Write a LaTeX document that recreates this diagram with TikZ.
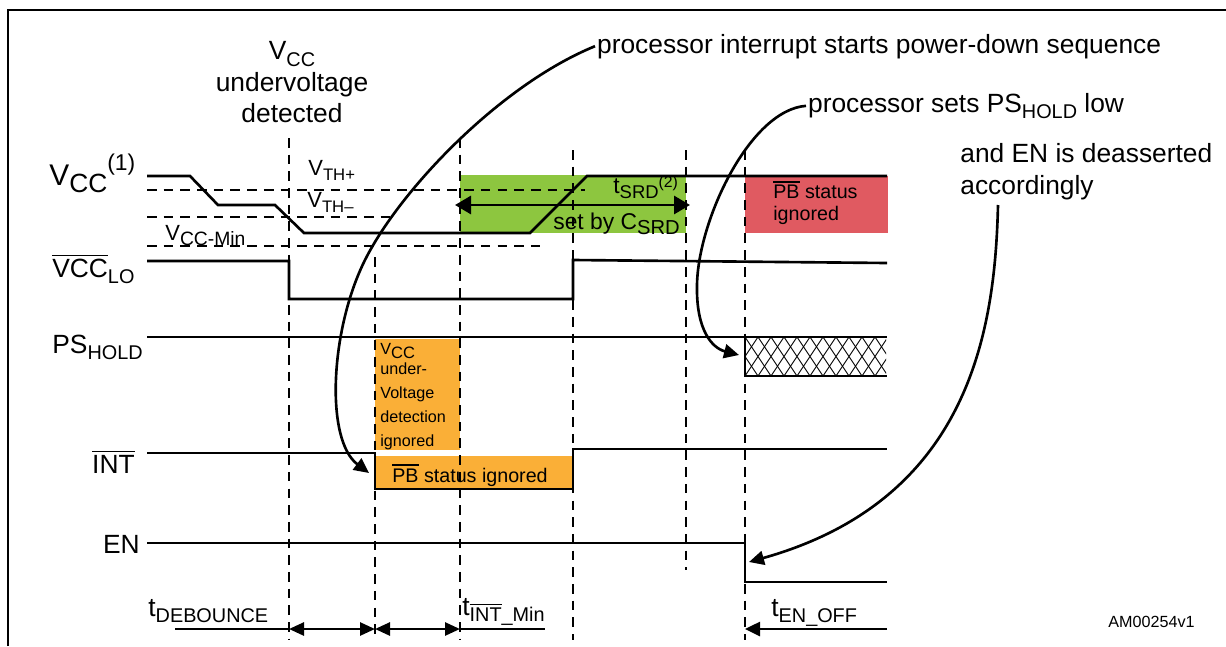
\documentclass[tikz,border=0pt]{standalone}
\usepackage{fontspec}
\setmainfont{Liberation Sans}
\usepackage{tikz}
\usetikzlibrary{arrows.meta}
\definecolor{srdgreen}{RGB}{141,198,63}
\definecolor{pbred}{RGB}{224,90,97}
\definecolor{ignorange}{RGB}{250,175,55}
\newcommand{\sublbl}[2][11.3]{\raisebox{-0.25em}{\fontsize{#1}{#1}\selectfont #2}}
\newcommand{\suplbl}[2][11]{\raisebox{0.5em}{\fontsize{#1}{#1}\selectfont #2}}
\newcommand{\barred}[1]{\leavevmode\vbox{\hrule height 0.9pt\kern 1.4pt\hbox{#1}}}

\begin{document}
\begin{tikzpicture}[x=0.02cm,y=-0.02cm,
    wave/.style={line width=1.5pt},
    guide/.style={line width=1.2pt,dash pattern=on 5.5pt off 4pt},
    big/.style={font=\fontsize{15}{18}\selectfont,inner sep=1pt},
    note/.style={font=\fontsize{11.2}{12.5}\selectfont,inner sep=0pt},
    tiny/.style={font=\fontsize{9.2}{13.6}\selectfont,inner sep=0pt},
    tip/.style={-{Triangle[length=0.3cm,width=0.28cm]}},
    both/.style={{Triangle[length=0.3cm,width=0.26cm]}-{Triangle[length=0.3cm,width=0.26cm]}}]
			%%%%% START %%%%%
			\useasboundingbox (0,0) rectangle (1226,646);
			\draw[line width=1.6pt] (8,646) -- (8,10) -- (1226,10);
			
			\fill[srdgreen] (460,175) rectangle (686,233);
			\fill[pbred] (745,176) rectangle (888,233);
			\fill[ignorange] (375,339) rectangle (460,450);
			\fill[ignorange] (375,456) rectangle (573,490);
			
			\begin{scope}
				\clip (745,337) rectangle (886,376);
				\foreach \x in {719,732,...,886}
					\draw[line width=0.5pt] (\x,337) -- ++(26,39) (\x,376) -- ++(26,-39);
			\end{scope}
			
			\foreach \x/\y in {289/138,375/257,460/138,573/150,745/150}
				\draw[guide] (\x,\y) -- (\x,640);
			\draw[guide] (686,150) -- (686,570);
			\draw[guide] (147,190) -- (585,190);
			\draw[guide] (147,217) -- (390,217);
			\draw[guide] (147,246) -- (540,246);
			
			\draw[wave] (147,176) -- (190,176) -- (218,205) -- (275,205) -- (304,233) -- (530,233) -- (587,176) -- (887,176);
			\draw[wave] (147,261) -- (289,261) -- (289,299) -- (573,299) -- (573,260) -- (887,263);
			\draw[wave] (147,337) -- (887,337) (745,337) -- (745,376) -- (887,376);
			\draw[wave] (147,453) -- (375,453) -- (375,489) -- (573,489) -- (573,449) -- (887,449);
			\draw[wave] (147,543) -- (745,543) -- (745,582) -- (887,582);
			
			\coordinate (srdL) at (455,205);
			\coordinate (srdR) at (690,205);
			\draw[line width=1.7pt,{Triangle[length=0.32cm,width=0.36cm]}-{Triangle[length=0.32cm,width=0.36cm]}] (srdL) -- (srdR);
			
			\coordinate (d0) at (175,629);
			\coordinate (d1) at (289,629);
			\coordinate (d2) at (375,629);
			\coordinate (d3) at (460,629);
			\coordinate (d4) at (545,629);
			\coordinate (e0) at (887,629);
			\coordinate (e1) at (745,629);
			\draw[wave] (d0) -- (d1);
			\draw[wave,both] (d1) -- (d2);
			\draw[wave,both] (d2) -- (d3);
			\draw[wave] (d3) -- (d4);
			\draw[wave,tip] (e0) -- (e1);
			
			\node[big,align=center,anchor=north,inner sep=0pt] (uvd) at (292,41) {V\sublbl{CC}\\undervoltage\\detected};
			\node[big,anchor=base west] (irq) at (595,53) {processor interrupt starts power-down sequence};
			\node[big,anchor=base west] (hold) at (806,112) {processor sets PS\sublbl{HOLD} low};
			\node[big,anchor=north west,align=left,inner sep=0pt] (ensay) at (960,143) {and EN is deasserted\\accordingly};
			
			\node[anchor=base west,inner sep=0pt,font=\fontsize{17}{20}\selectfont] (vcc) at (49,185) {V\sublbl[15]{CC}\suplbl[13]{(1)}};
			\node[big,anchor=base west,inner sep=0pt] (vcclo) at (52,277) {\barred{VCC}\sublbl{LO}};
			\node[big,anchor=base west,inner sep=0pt] (pshold) at (52,353) {PS\sublbl{HOLD}};
			\node[big,anchor=base east,inner sep=0pt] (int) at (135,473) {\barred{INT}};
			\node[big,anchor=base east,inner sep=0pt] (en) at (140,553) {EN};
			
			\node[anchor=base west,inner sep=0pt,font=\fontsize{12.5}{14}\selectfont] (vthp) at (308,175) {V\sublbl[9.5]{TH+}};
			\node[anchor=base west,inner sep=0pt,font=\fontsize{12.5}{14}\selectfont] (vthm) at (307,207) {V\sublbl[9.5]{TH\textendash}};
			\node[anchor=base west,inner sep=0pt,font=\fontsize{12.5}{14}\selectfont] (vmin) at (165,240) {V\sublbl[11]{CC-Min}};
			
			\node[anchor=base west,inner sep=0pt,font=\fontsize{13}{15}\selectfont] (tsrd) at (613,193) {t\sublbl[10.5]{SRD}\raisebox{0.25em}{\fontsize{9}{9}\selectfont (2)}};
			\node[anchor=base west,inner sep=0pt,font=\fontsize{13}{15}\selectfont] (csrd) at (553,229) {set by C\sublbl[11.5]{SRD}};
			
			\node[note,anchor=north west,align=left] (redtxt) at (773,181) {\barred{PB} status\\ignored};
			\node[note,anchor=base west] (pbtxt) at (392,482) {\barred{PB} status ignored};
			\node[tiny,anchor=north west,align=left] (uvtxt) at (380,343) {V\sublbl[9.4]{CC}\\[-2pt]under-\\Voltage\\detection\\ignored};
			
			\node[big,anchor=base west,inner sep=0pt] (tdeb) at (148,616) {t\sublbl{DEBOUNCE}};
			\node[big,anchor=base west,inner sep=0pt] (tint) at (462,615) {t\sublbl{\barred{INT}\_Min}};
			\node[big,anchor=base west,inner sep=0pt] (tenoff) at (771,616) {t\sublbl{EN\_OFF}};
			\node[anchor=base west,inner sep=0pt,font=\fontsize{9.2}{11}\selectfont] (amref) at (1108,627) {AM00254v1};
			
			\coordinate (intin) at (369,473);
			\coordinate (holdin) at (739,355);
			\coordinate (enfrom) at (998,205);
			\coordinate (enin) at (749,562);
			\draw[wave,tip] (irq.west) .. controls (500,85) and (400,190) .. (365,260) .. controls (330,330) and (325,440) .. (intin);
			\draw[wave,tip] (hold.west) .. controls (750,110) and (698,220) .. (697,285) .. controls (696,330) and (712,348) .. (holdin);
			\draw[wave,tip] (enfrom) .. controls (995,330) and (970,500) .. (enin);
			%%%%% END %%%%%
\end{tikzpicture}
\end{document}
